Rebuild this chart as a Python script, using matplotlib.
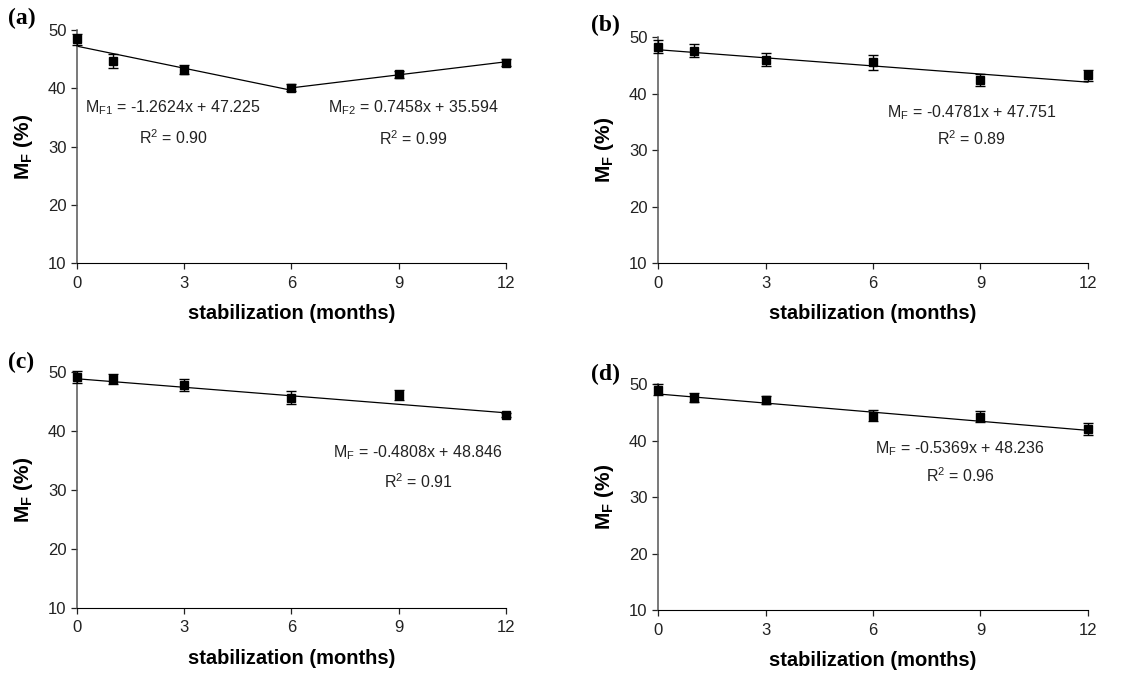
import numpy as np
import matplotlib
matplotlib.use("Agg")
import matplotlib.pyplot as plt

plt.rcParams["font.family"] = ["Liberation Sans", "DejaVu Sans"]
plt.rcParams["mathtext.default"] = "regular"

# %% data
months = [0, 1, 3, 6, 9, 12]

mf_a = [48.4, 44.7, 43.2, 40.1, 42.4, 44.4]
err_a = [0.9, 1.2, 0.8, 0.6, 0.6, 0.6]

mf_b = [48.3, 47.6, 46.0, 45.5, 42.4, 43.2]
err_b = [1.2, 1.1, 1.2, 1.3, 1.1, 0.9]

mf_c = [49.2, 48.8, 47.8, 45.6, 46.1, 42.7]
err_c = [1.0, 0.9, 1.0, 1.1, 0.9, 0.4]

mf_d = [49.0, 47.6, 47.1, 44.4, 44.2, 42.0]
err_d = [1.0, 0.8, 0.7, 1.0, 1.0, 1.1]

# trend lines: (slope, intercept, x_start, x_end)
fits_a = [(-1.2624, 47.225, 0, 6), (0.7458, 35.594, 6, 12)]
fits_b = [(-0.4781, 47.751, 0, 12)]
fits_c = [(-0.4808, 48.846, 0, 12)]
fits_d = [(-0.5369, 48.236, 0, 12)]

# annotation texts: (equation, r2 text, x, y_eq, y_r2)
notes_a = [("M$_{F1}$ = -1.2624x + 47.225", "R$^2$ = 0.90", 2.7, 36.6, 31.6),
           ("M$_{F2}$ = 0.7458x + 35.594", "R$^2$ = 0.99", 9.4, 36.6, 31.4)]
notes_b = [("M$_F$ = -0.4781x + 47.751", "R$^2$ = 0.89", 8.76, 36.7, 32.0)]
notes_c = [("M$_F$ = -0.4808x + 48.846", "R$^2$ = 0.91", 9.54, 36.3, 31.4)]
notes_d = [("M$_F$ = -0.5369x + 48.236", "R$^2$ = 0.96", 8.43, 38.5, 33.7)]

panels = [
    ("(a)", mf_a, err_a, fits_a, notes_a, [0.0672, 0.6092, 0.3747, 0.3462], (0.007, 0.972)),
    ("(b)", mf_b, err_b, fits_b, notes_b, [0.5747, 0.6092, 0.3755, 0.3358], (0.516, 0.962)),
    ("(c)", mf_c, err_c, fits_c, notes_c, [0.0672, 0.0966, 0.3747, 0.3507], (0.007, 0.462)),
    ("(d)", mf_d, err_d, fits_d, notes_d, [0.5747, 0.0936, 0.3755, 0.3358], (0.516, 0.443)),
]

fig = plt.figure(figsize=(11.45, 6.73), dpi=100)

for label, mf, err, fits, notes, rect, lab_pos in panels:
    ax = fig.add_axes(rect)
    for slope, icpt, x0, x1 in fits:
        xx = np.array([x0, x1])
        ax.plot(xx, slope * xx + icpt, "k-", linewidth=0.9, clip_on=False)
    ax.errorbar(months, mf, yerr=err, fmt="s", color="black", markersize=5.3,
                ecolor="black", elinewidth=1.0, capsize=3.6, capthick=1.0,
                clip_on=False, zorder=3)
    for eq, r2, xt, ye, yr in notes:
        ax.text(xt, ye, eq, ha="center", va="center", fontsize=11.5, color="#222222")
        ax.text(xt, yr, r2, ha="center", va="center", fontsize=11.5, color="#222222")

    ax.set_xlim(0, 12)
    ax.set_ylim(10, 50)
    ax.set_xticks([0, 3, 6, 9, 12])
    ax.set_yticks([10, 20, 30, 40, 50])
    ax.spines["top"].set_visible(False)
    ax.spines["right"].set_visible(False)
    ax.spines["left"].set_color("#555555")
    ax.spines["left"].set_linewidth(1.1)
    ax.tick_params(direction="out", length=4, width=0.9, labelsize=12, colors="#222222")
    ax.tick_params(axis="x", pad=5)
    ax.set_xlabel("stabilization (months)", fontsize=14.5, fontweight="bold", labelpad=10)
    ax.set_ylabel("M$_\\mathregular{F}$ (%)", fontsize=15, fontweight="bold", labelpad=9)
    fig.text(lab_pos[0], lab_pos[1], label, family="Liberation Serif",
             fontweight="bold", fontsize=17, va="center")

fig.savefig("out.png", dpi=100)
